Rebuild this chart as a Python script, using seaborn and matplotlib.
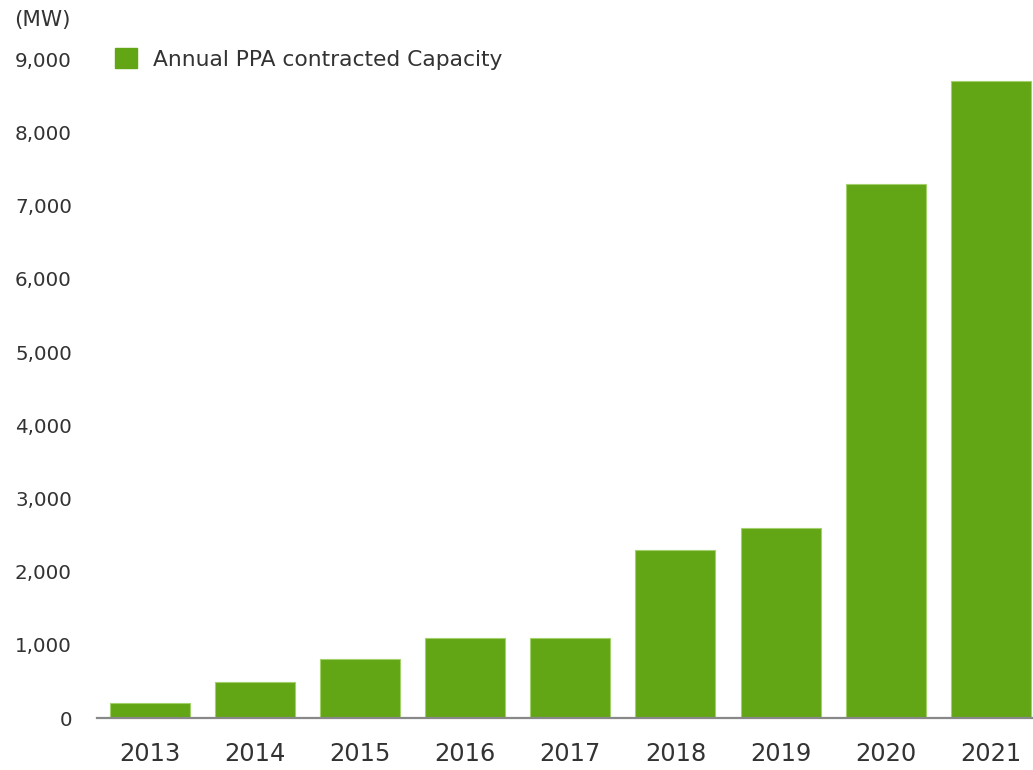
import matplotlib
matplotlib.use("Agg")
import matplotlib.pyplot as plt
import seaborn as sns
import pandas as pd
from matplotlib.patches import Patch

years = ["2013", "2014", "2015", "2016", "2017", "2018", "2019", "2020", "2021"]
capacity_mw = [200, 490, 800, 1090, 1090, 2300, 2590, 7300, 8700]
yticks = [0, 1000, 2000, 3000, 4000, 5000, 6000, 7000, 8000, 9000]
series_label = "Annual PPA contracted Capacity"
unit_label = "(MW)"

BAR = "#62a515"
EDGE = "#a3d06b"
TEXT = "#333333"

sns.set_style("white")
plt.rcParams["font.family"] = ["DejaVu Sans"]

df = pd.DataFrame({"year": years, "mw": capacity_mw})

fig = plt.figure(figsize=(10.33, 7.70), dpi=100)
W, H = 1033, 770
ax = fig.add_axes([97 / W, (H - 718) / H, (W - 97) / W, (718 - 59.4) / H])

sns.barplot(data=df, x="year", y="mw", color=BAR, width=0.76, ax=ax,
            edgecolor=EDGE, linewidth=0.8, saturation=1)

ax.set_xlim(-0.5, 8.4)
ax.set_ylim(0, 9000)
ax.set_yticks(yticks)
ax.set_yticklabels([f"{v:,}" for v in yticks])
ax.set_xlabel("")
ax.set_ylabel("")
ax.tick_params(axis="both", length=0, colors=TEXT)
ax.tick_params(axis="y", labelsize=14.3, pad=18)
ax.tick_params(axis="x", labelsize=17.4, pad=17.5)
for s in ["left", "top", "right"]:
    ax.spines[s].set_visible(False)
ax.spines["bottom"].set_color("#888888")
ax.spines["bottom"].set_linewidth(1.6)
ax.grid(False)

fig.text(14 / W, 1 - 20 / H, unit_label, fontsize=15.5, color=TEXT,
         ha="left", va="center")

handle = Patch(facecolor=BAR, edgecolor=BAR, label=series_label)
fig.legend(handles=[handle], loc="center left",
           bbox_to_anchor=(115 / W, 1 - 59 / H), frameon=False,
           fontsize=15.7, handlelength=1.0, handleheight=1.0,
           handletextpad=0.72, borderpad=0, borderaxespad=0,
           labelcolor=TEXT)

fig.savefig("out.png", dpi=100)
